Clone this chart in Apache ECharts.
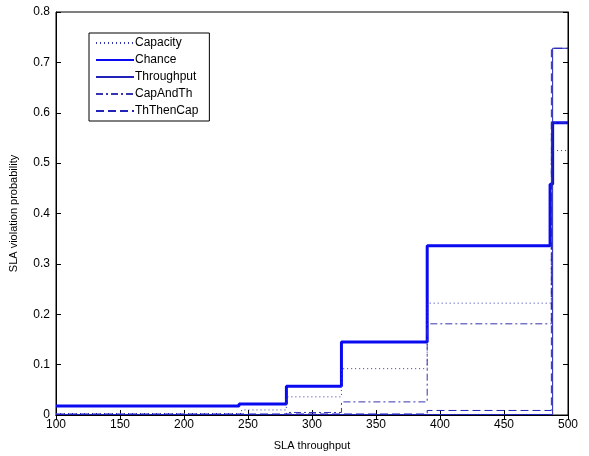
<!DOCTYPE html>
<html>
<head>
<meta charset="utf-8">
<script src="https://cdn.jsdelivr.net/npm/echarts@6/dist/echarts.min.js"></script>
<style>
  html, body { margin: 0; padding: 0; background: #fff; }
  #chart { width: 589px; height: 456px; }
</style>
</head>
<body>
<div id="chart"></div>
<script>
// step points: value holds from x[i] until x[i+1]
const capacityX = [100, 245, 280, 323, 390, 487, 500]
const capacityY = [0.003, 0.010, 0.036, 0.092, 0.222, 0.525, 0.525]

const chanceX = [100, 243, 280, 323, 390, 486, 488, 500]
const chanceY = [0.018, 0.022, 0.057, 0.145, 0.336, 0.458, 0.580, 0.580]

const throughputX = [100, 488, 500]
const throughputY = [0.001, 0.728, 0.728]

const capAndThX = [100, 280, 323, 390, 487, 500]
const capAndThY = [0.001, 0.005, 0.026, 0.181, 0.580, 0.580]

const thThenCapX = [100, 390, 487, 500]
const thThenCapY = [0.002, 0.009, 0.728, 0.728]

const xTicks = [100, 150, 200, 250, 300, 350, 400, 450, 500]
const yTicks = [0, 0.1, 0.2, 0.3, 0.4, 0.5, 0.6, 0.7, 0.8]

const zip = (xs, ys) => xs.map((x, i) => [x, ys[i]])

const FONT = 'Liberation Sans, Arial, sans-serif'
const THIN = '#2222bb'
const LIGHT = '#3535b0'

const chart = echarts.init(document.getElementById('chart'))

const stepSeries = (name, xs, ys, color, width, type, z) => ({
  name,
  type: 'line',
  step: 'end',
  data: zip(xs, ys),
  symbol: 'none',
  z,
  lineStyle: { color, width, type },
  itemStyle: { color },
  animation: false,
})

const axisCommon = {
  type: 'value',
  axisLine: { show: true, lineStyle: { color: '#000', width: 1 } },
  axisTick: { show: true, inside: true, length: 5, lineStyle: { color: '#000' } },
  splitLine: { show: false },
}

chart.setOption({
  animation: false,
  backgroundColor: '#fff',
  grid: {
    left: 55, right: 21, top: 12, bottom: 36,
    show: true, borderColor: '#000', borderWidth: 1, backgroundColor: 'transparent',
  },
  legend: {
    left: 89,
    top: 33,
    orient: 'vertical',
    data: ['Capacity', 'Chance', 'Throughput', 'CapAndTh', 'ThThenCap'],
    itemWidth: 38,
    itemHeight: 12,
    itemGap: 5,
    padding: [4, 11, 4, 6],
    backgroundColor: '#fff',
    borderColor: '#000',
    borderWidth: 1,
    borderRadius: 0,
    itemStyle: { opacity: 0, borderWidth: 0 },
    textStyle: { fontFamily: FONT, fontSize: 12, color: '#000', padding: [0, 0, 0, -4] },
  },
  xAxis: [
    {
      ...axisCommon,
      min: 100, max: 500, interval: 50,
      name: 'SLA throughput',
      nameLocation: 'middle',
      nameGap: 25,
      nameTextStyle: { fontFamily: FONT, fontSize: 11, color: '#000' },
      axisLabel: {
        fontFamily: FONT, fontSize: 12, color: '#000', margin: 4,
        formatter: v => xTicks.includes(v) ? String(v) : '',
      },
    },
    {
      ...axisCommon,
      position: 'top',
      min: 100, max: 500, interval: 50,
      axisLabel: { show: false },
    },
  ],
  yAxis: [
    {
      ...axisCommon,
      min: 0, max: 0.8, interval: 0.1,
      name: 'SLA violation probability',
      nameLocation: 'middle',
      nameGap: 37,
      nameTextStyle: { fontFamily: FONT, fontSize: 11, color: '#000' },
      axisLabel: {
        fontFamily: FONT, fontSize: 12, color: '#000', margin: 6,
        formatter: v => {
          const t = yTicks.find(y => Math.abs(y - v) < 1e-9)
          if (t === undefined) return ''
          return t === 0 ? '0' : t.toFixed(1)
        },
      },
    },
    {
      ...axisCommon,
      position: 'right',
      min: 0, max: 0.8, interval: 0.1,
      axisLabel: { show: false },
    },
  ],
  series: [
    stepSeries('Capacity', capacityX, capacityY, LIGHT, 1, [1, 3], 3),
    stepSeries('Chance', chanceX, chanceY, '#0a0af0', 3, 'solid', 2),
    stepSeries('Throughput', throughputX, throughputY, THIN, 1, 'solid', 4),
    stepSeries('CapAndTh', capAndThX, capAndThY, LIGHT, 1, [7, 3, 2, 3], 3),
    stepSeries('ThThenCap', thThenCapX, thThenCapY, THIN, 1, [8, 4], 3),
  ],
})
</script>
</body>
</html>
